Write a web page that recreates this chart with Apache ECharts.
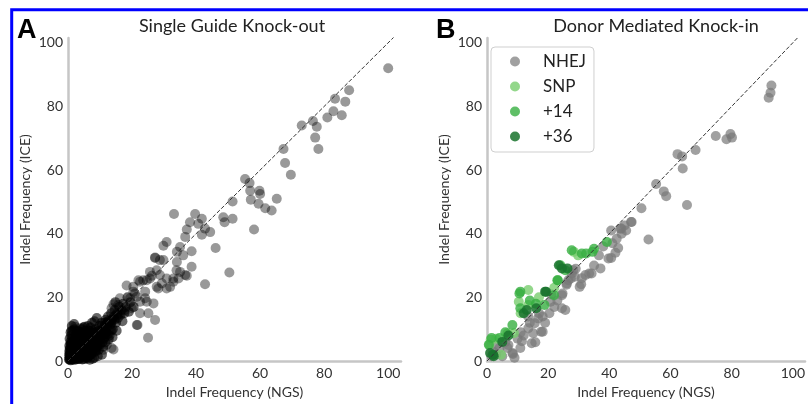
<!DOCTYPE html>
<html>
<head>
<meta charset="utf-8">
<script src="https://cdn.jsdelivr.net/npm/echarts@6/dist/echarts.min.js"></script>
<style>
  html, body { margin: 0; padding: 0; background: #fff; }
  #chart { width: 808px; height: 404px; }
</style>
</head>
<body>
<div id="chart"></div>
<script>
// panel A: single guide knock-out, [NGS, ICE]
const koCluster = [
  [0.3,0.5],[0.5,1.2],[0.8,0.2],[1,2],[1.2,0.8],[1.5,3],[1.7,1.5],[2,0.4],[2.2,2.5],[2.5,4],
  [2.8,1],[3,3],[3.2,5],[3.4,2],[3.6,0.6],[3.8,4],[4,6],[4.2,3],[4.5,1.5],[4.7,5],
  [5,7],[5.2,2.5],[5.5,4],[5.7,6],[6,0.8],[6,8],[6.3,3.5],[6.5,5.5],[6.8,7],[7,2],
  [7.2,9],[7.5,4.5],[7.8,6.5],[8,8],[8.2,1],[8.5,10],[8.7,3],[9,5.5],[9.2,7.5],[9.5,9.5],
  [9.8,11],[10,6.5],[10.3,8.5],[10.5,12],[10.8,10],[11,4.5],[11.2,7],[11.5,11],[11.8,13],[12,9],
  [12.3,10.5],[12.5,14],[12.8,12],[13,8],[13.3,11.5],[13.5,15],[13.8,13],[14,10],[14.3,14],[14.6,16],
  [15,12],[15.3,15],[15.6,13.5],[16,17],[16.4,14.5],[16.8,16],[17.2,18],[17.6,15],[18,17],[0.6,4],
  [0.8,6],[1,8],[0.7,2.5],[1,5],[1.3,7],[1.1,9.5],[1.8,6],[2.3,8],[2,10],[3,9.5],
  [2.7,7],[3.5,8],[4.3,9],[4.8,10.5],[5.5,9.5],[6.2,11],[7,10.5],[7.5,12],[8.3,12.5],[9,13.5],
  [0.6,0.6],[0.9,3.5],[1.4,4.5],[2.4,5.5],[3.3,6.5],[4.4,7.5],[5.3,8.5],[6.4,9.5],[7.4,8],[8.6,6],
  [9.6,3.5],[10.6,2],[3.9,1.2],[5.8,1.8],[7.7,0.7],[9.3,1.5],[2.6,3.4],[4.1,4.6],[6.6,2.8],[8.9,4.3],
  [11.6,5.8],[12.7,6.8],[13.9,7.5],[1.2,11],[1.9,11.6],[15.2,9.5],[17,12.5],[19,15.5],[19.5,18.5],[20.5,17],
  [14.8,18.5],[18.6,20],[5,0.6],[2.1,1.1],[1.1,1.6],[3.1,0.6],[0.8,5.3],[4.6,2.2],[7.9,3.6],[10.9,8.2],
  [12.1,11.8],[13.6,9.6],
  [0.5,0.5],[1.5,0.5],[2.5,0.5],[3.5,1],[4.5,0.5],[5.5,1],[6.5,1.5],[0.5,2],[1.5,2.5],[2.5,2],
  [3.5,3],[4.5,3.5],[5.5,3],[6.5,4.5],[7.5,3],[0.5,3.5],[1.5,4],[2.5,5],[3.5,4.5],[4.5,6],
  [5.5,5],[6.5,6.5],[7.5,5.5],[8.5,5],[9.5,6.5],[8.5,7],[9.5,8],[10.5,9],[11.5,9.5],[12.5,8.5],
  [0.5,7],[1.5,6],[2.5,6.5],[3.5,7],[4.5,8],[5.5,7],[6.5,8],[7.5,9.5],[8.5,9],[10.5,11],
  [11.5,12],[12.5,12.5],[13.5,12],[14.5,13],[15.5,14.5],
  [0.4,1.8],[1.2,1.2],[2,2],[2.8,2.8],[3.6,3.6],[4.4,4.4],[5.2,5.2],[6,6],[6.8,6.8],[7.6,7.6],
  [8.4,8.4],[9.2,9.2],[0.4,2.8],[1.2,3.2],[2,3.6],[2.8,4.4],[3.6,5.2],[4.4,5.6],[5.2,6.4],[6,7.2],
  [6.8,8],[7.6,8.8],[1.2,0.4],[2,1.2],[2.8,1.8],[3.6,2.4],[4.4,2.8],[5.2,3.6],[6,4.4],[6.8,5.2],
  [7.6,6],[8.4,6.8],[9.2,7.2],[0.4,4.8],[1.2,5.6],[2,6.8],[2.8,8.4],[3.6,9.2],[4.4,10],[5.2,10.8],
  [6,1.2],[6.8,0.4],[7.6,2.4],[8.4,3.2],[9.2,4.4],[10,5.2],[10.8,6],[11.6,7.6],[0.8,9],[1.6,9.6]
];
const koSpread = [
  [100,92],[87.8,85.1],[83.4,82.4],[86.6,81.5],[82.9,78.5],[85.5,77.2],[81,76.5],[76.5,75.4],[77.7,73.6],[73,74],
  [77.2,70.2],[78.2,66.6],[67.3,66.6],[67.8,62.2],[69.6,58.5],[55.3,57.2],[56.7,55.9],[56.9,53.5],[59.8,53.5],[60,52.5],
  [65.2,51],[57.1,50.7],[59.5,49.4],[61.6,48],[63.6,47.3],[51.4,50.1],[58.1,41.3],[48.5,45.2],[51.4,44.7],[48.9,43.6],
  [33.1,46.2],[39.7,46.2],[41.8,44.7],[38.1,43.6],[40.7,43.1],[37.1,41.3],[42.8,41.6],[44.4,40.5],[36.6,39],[41.8,39.7],
  [46.1,35.5],[30.8,37.4],[29.8,36.2],[35,35.8],[38.6,34.5],[36,33.2],[34,34.3],[27.2,32.5],[28.7,31.7],[34,31.1],
  [38.6,29.6],[35,28],[37.1,26.8],[50.4,27.8],[42.8,24.1],[25.6,28],[23.5,25.4],[18.3,23.7],[20.4,23.3],[22,25.4],
  [24.6,25.4],[26.2,26.8],[27.7,28.5],[27.2,32.4],[29.8,31.7],[20.9,21.2],[24.1,19.7],[24.6,18.6],[19.4,19.7],[16.2,19.7],
  [14.2,17.8],[25.1,15],[27.7,23.3],[31.9,23.3],[29.3,24.4],[32.9,25.9],[30.8,25.9],[19.9,16.6],[22.5,18.6],[24.1,21.8],
  [22.5,24.9],[25.6,25.9],[28.7,27],[28.2,22.8],[30.8,22.8],[32.9,24.9],[34.5,25.9],[36.6,27],[33.9,28.5],[20.4,21.8],
  [21.5,20.2],[27.2,12.9],[21.5,11.3],[25,7.3],[13.6,4.1],[11,3.5],[14.2,3.6],[2.2,10.8],[3.7,10.3],[13.1,9.8],
  [12.6,12.4],[14.2,13.4],[16.2,15],[17.8,16],[15.7,17.6],[13.6,16.6],[21.7,11.3],[22.5,15],[26.7,18.1],[9.1,4.7],
  [12.1,5.1]
];

// panel B: donor mediated knock-in, [NGS, ICE]
const nhejPoints = [
  [93,86.6],[92.7,84.3],[92.1,82.7],[79.6,71.3],[80.1,70.2],[78.3,69.7],[74.8,70.7],[68.2,66.3],[62.3,65],[63.8,64.3],
  [64,60.5],[55.3,55.6],[57.8,53.3],[58.6,51.8],[65.4,49],[50.5,48],[47.1,43.7],[45,42.6],[43.9,41.6],[45.5,41],
  [40.6,41],[42.4,38.4],[52.8,38.2],[42.9,35.5],[40.6,32.4],[37.1,29.1],[33.4,27.5],[32.2,27],[28.2,28.5],[28.7,26.5],
  [26.1,24.4],[30.8,24.1],[36.6,33.2],[39.7,32.2],[27.7,27.5],[30.3,23.3],[26.6,25.4],[24.5,20.7],[25.6,16],[24.5,16.6],
  [20.4,15],[18.2,14],[20.8,18.6],[8.3,2.5],[11.4,6.2],[14.6,5.6],[15.1,8.7],[17.7,9.2],[13.5,10.3],[10.9,4.1],
  [6.7,4.1],[4.1,4.1],[13.5,14],[15.6,11.9],[16.7,13.4],[18.2,9.2],[15.8,5.9],[8.5,2.2],[24.7,21.2],[27.4,25.9],
  [34.2,27.5],[43.6,41.6],[47.3,43.7],[22,17],[19,12],[12,8],[10,7],[6,6],[3,5],[2,3],
  [5,1.5],[9,1],[1.5,1.5],[3,2],[7,5],[11,9],[14,12],[17,15],[23,19],[21,21],
  [26,24],[29,29],[31,26],[35,30],[38,36],[41,37],[44,40],[42,34]
];
const snpPoints = [
  [13.5,22.3],[28.4,34.3],[10.4,18.6],[13.5,17.6],[6.7,8.7],[0.8,5.1],[1.2,6.7],[8.8,8.7],[4.6,2],[29.8,33.2],
  [11,15],[3,7],[17,20],[22,23]
];
const plus14Points = [
  [10.9,21.8],[21.9,20.7],[23,25.4],[25.6,28.5],[32.4,33.8],[34.5,34.3],[35,35.3],[39.2,37.4],[27.7,34.8],[10.9,16.6],
  [18.8,17.6],[8.3,11.3],[4.1,7.2],[1.5,7.2],[10.6,21.2],[23.2,25.4],[31,33.8],[24,30.1],[14,19],[6,9],
  [0.6,5.1],[16,18]
];
const plus36Points = [
  [19.3,21.8],[16.1,16.6],[2,2],[2.2,1.5],[23.5,30.1],[24.5,29.1],[26.3,29.1],[19,21.8],[12,15],[7,8],
  [5,6],[1,2.5],[13,16]
];

const identityLine = [[0, 0], [104, 104]];
const panelTitles = ['Single Guide Knock-out', 'Donor Mediated Knock-in'];
const legendNames = ['NHEJ', 'SNP', '+14', '+36'];

const font = 'Lato, "Open Sans", sans-serif';

function makeXAxis (gridIndex) {
  return {
    gridIndex,
    type: 'value',
    min: 0,
    max: 104,
    interval: 20,
    name: 'Indel Frequency (NGS)',
    nameLocation: 'middle',
    nameGap: 24,
    nameTextStyle: { fontSize: 14, color: '#333', fontFamily: font },
    axisLine: { show: true, lineStyle: { color: '#c6c6c6', width: 2.5 } },
    axisTick: { show: false },
    splitLine: { show: false },
    axisLabel: {
      margin: 5,
      fontSize: 14,
      color: '#333',
      fontFamily: font,
      showMaxLabel: false,
      formatter: v => (v % 20 === 0 ? v : '')
    }
  }
}

function makeYAxis (gridIndex) {
  return {
    gridIndex,
    type: 'value',
    min: 0,
    max: 101.5,
    interval: 20,
    name: 'Indel Frequency (ICE)',
    nameLocation: 'middle',
    nameGap: 36,
    nameTextStyle: { fontSize: 14, color: '#333', fontFamily: font },
    axisLine: { show: true, lineStyle: { color: '#c6c6c6', width: 2.5 } },
    axisTick: { show: false },
    splitLine: { show: false },
    axisLabel: {
      margin: 5,
      fontSize: 14,
      color: '#333',
      fontFamily: font,
      showMaxLabel: false,
      formatter: v => (v % 20 === 0 ? v : '')
    }
  }
}

function scatter (name, idx, data, color) {
  return {
    name,
    type: 'scatter',
    xAxisIndex: idx,
    yAxisIndex: idx,
    data,
    symbolSize: 10,
    itemStyle: { color, opacity: 1 },
    silent: true
  }
}

function diagonal (idx) {
  return {
    type: 'line',
    xAxisIndex: idx,
    yAxisIndex: idx,
    data: identityLine,
    showSymbol: false,
    silent: true,
    lineStyle: { color: '#333', width: 1, type: [4, 2] },
    z: 5
  }
}

const chart = echarts.init(document.getElementById('chart'), null, { renderer: 'canvas' })

chart.setOption({
  animation: false,
  backgroundColor: '#fff',
  title: [
    { text: panelTitles[0], left: 227, top: 12, textAlign: 'center',
      textStyle: { fontSize: 18, fontWeight: 'normal', color: '#222', fontFamily: font } },
    { text: panelTitles[1], left: 651, top: 12, textAlign: 'center',
      textStyle: { fontSize: 18, fontWeight: 'normal', color: '#222', fontFamily: font } }
  ],
  legend: {
    data: legendNames,
    orient: 'vertical',
    left: 491,
    top: 47,
    padding: [6, 8, 7, 19],
    itemGap: 8,
    itemWidth: 10,
    itemHeight: 10,
    icon: 'circle',
    backgroundColor: '#fff',
    borderColor: '#cfcfcf',
    borderWidth: 1,
    borderRadius: 4,
    textStyle: { fontSize: 17, lineHeight: 16, color: '#222', fontFamily: font, padding: [0, 0, 0, 18] }
  },
  grid: [
    { left: 68, top: 38, width: 333, height: 325 },
    { left: 487, top: 38, width: 333, height: 325 }
  ],
  xAxis: [makeXAxis(0), makeXAxis(1)],
  yAxis: [makeYAxis(0), makeYAxis(1)],
  series: [
    scatter('KO spread', 0, koSpread, 'rgba(0,0,0,0.4)'),
    scatter('KO cluster', 0, koCluster, 'rgba(0,0,0,0.6)'),
    diagonal(0),
    scatter('NHEJ', 1, nhejPoints, 'rgba(120,120,120,0.7)'),
    scatter('SNP', 1, snpPoints, 'rgba(120,205,110,0.8)'),
    scatter('+14', 1, plus14Points, 'rgba(55,175,65,0.8)'),
    scatter('+36', 1, plus36Points, 'rgba(25,115,45,0.85)'),
    diagonal(1)
  ],
  graphic: [
    { type: 'rect', shape: { x: 11.7, y: 9.7, width: 900, height: 500 },
      style: { fill: 'none', stroke: '#0000ff', lineWidth: 3 }, z: 100 },
    { type: 'text', x: 17, y: 17,
      style: { text: 'A', font: 'bold 27px "Liberation Sans", Arial, sans-serif', fill: '#000' } },
    { type: 'text', x: 436, y: 17,
      style: { text: 'B', font: 'bold 27px "Liberation Sans", Arial, sans-serif', fill: '#000' } }
  ]
})
</script>
</body>
</html>
